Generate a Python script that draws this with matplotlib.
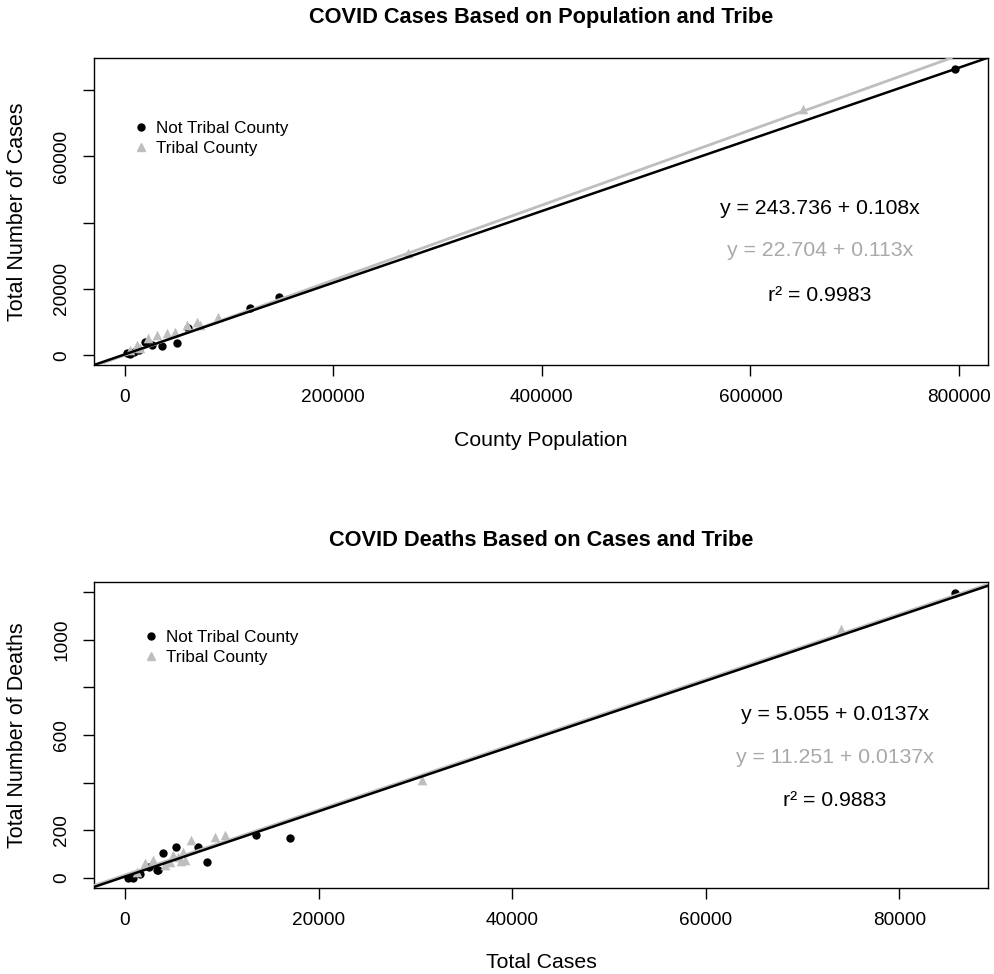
import matplotlib
matplotlib.use("Agg")
import matplotlib.pyplot as plt
from matplotlib.lines import Line2D

plt.rcParams["font.family"] = ["Liberation Sans", "DejaVu Sans"]

# ---- data ----
# panel 1: county population vs total cases
pop_not_tribal = [796300, 148100, 120300, 61200, 50000, 35700, 19700, 2100, 5300, 9000, 14000, 26000]
cases_not_tribal = [86100, 17700, 14350, 8140, 3620, 2800, 4100, 600, 300, 1100, 1700, 3000]
pop_tribal = [650000, 272000, 89900, 72400, 69200, 59600, 48400, 40400, 30900, 22800, 11700, 5300, 15000]
cases_tribal = [74300, 30700, 11640, 9140, 10130, 9140, 7120, 6630, 6120, 5130, 3100, 1600, 2200]

# panel 2: total cases vs total deaths
cases2_not_tribal = [85700, 17040, 13530, 8500, 7570, 5270, 3960, 3270, 3440, 860, 340, 1500, 2500]
deaths_not_tribal = [1194, 167, 179, 67, 128, 130, 102, 32, 33, 0, 0, 15, 45]
cases2_tribal = [74000, 30680, 10330, 9300, 6780, 6020, 6200, 5510, 4650, 4130, 2920, 2070, 1210, 5000, 5800]
deaths_tribal = [1046, 410, 179, 172, 158, 109, 74, 88, 67, 53, 74, 60, 25, 95, 70]

# regression fits (intercept, slope) and r^2
fit_cases = {"not": (243.736, 0.108), "tribal": (22.704, 0.113), "r2": 0.9983}
fit_deaths = {"not": (5.055, 0.0137), "tribal": (11.251, 0.0137), "r2": 0.9883}

BLACK = "black"
GRAY = "#BEBEBE"
GRAY_TXT = "#A9A9A9"
W, H = 995, 974

fig = plt.figure(figsize=(W / 100, H / 100), dpi=100)


def px_axes(l, t, r, b):
    return fig.add_axes([l / W, 1 - b / H, (r - l) / W, (b - t) / H])


def panel(ax, xn, yn, xt, yt, fit, sfmt, title, xlabel, ylabel, xlim, ylim,
          xticks, yticks, ylabs, text_x, text_y, leg_anchor, title_y, xlab_y, ylab_x):
    ax.scatter(xn, yn, s=36, marker="o", color=BLACK, zorder=3, linewidths=0)
    ax.scatter(xt, yt, s=48, marker="^", color=GRAY, zorder=3, linewidths=0)
    a, b = fit["tribal"]
    ax.axline((0, a), slope=b, color=GRAY, lw=2.0, zorder=4)
    a, b = fit["not"]
    ax.axline((0, a), slope=b, color=BLACK, lw=1.8, zorder=5)
    ax.set_xlim(*xlim); ax.set_ylim(*ylim)
    ax.set_xticks(xticks); ax.set_xticklabels([str(v) for v in xticks])
    ax.set_yticks(yticks); ax.set_yticklabels(ylabs, rotation=90, va="center")
    ax.tick_params(length=8, width=1, labelsize=13.7, pad=9)
    for sp in ax.spines.values():
        sp.set_linewidth(1.0)
    a0, b0 = fit["not"]; a1, b1 = fit["tribal"]
    tr = ax.transData
    ax.text(text_x, text_y[0], f"y = {a0:.3f} + {b0:{sfmt}}x", color=BLACK, fontsize=15.3, ha="center", va="center", transform=tr)
    ax.text(text_x, text_y[1], f"y = {a1:.3f} + {b1:{sfmt}}x", color=GRAY_TXT, fontsize=15.3, ha="center", va="center", transform=tr)
    ax.text(text_x, text_y[2], f"r\u00b2 = {fit['r2']:.4f}", color=BLACK, fontsize=15.3, ha="center", va="center", transform=tr)
    handles = [Line2D([], [], ls="", marker="o", ms=5, color=BLACK),
               Line2D([], [], ls="", marker="^", ms=6, color=GRAY)]
    ax.legend(handles, ["Not Tribal County", "Tribal County"], loc="upper left",
              bbox_to_anchor=leg_anchor, bbox_transform=fig.transFigure, frameon=False,
              fontsize=12.3, handletextpad=0.35, handlelength=1.0, labelspacing=0.3, borderaxespad=0)
    pos = ax.get_position()
    fig.text(541 / W, 1 - title_y / H, title, fontsize=15.7, fontweight="bold", ha="center", va="center")
    fig.text(541 / W, 1 - xlab_y / H, xlabel, fontsize=15.3, ha="center", va="center")
    fig.text(ylab_x / W, (pos.y0 + pos.y1) / 2, ylabel, fontsize=15.5, rotation=90, ha="center", va="center")


ax1 = px_axes(94, 58, 988, 365)
panel(ax1, pop_not_tribal, cases_not_tribal, pop_tribal, cases_tribal, fit_cases, ".3f",
      "COVID Cases Based on Population and Tribe", "County Population", "Total Number of Cases",
      (-29240, 827800), (-2925, 89560),
      [0, 200000, 400000, 600000, 800000], [0, 20000, 40000, 60000, 80000],
      ["0", "20000", "", "60000", ""],
      666800, (44100, 31460, 17900), (126 / W, 1 - 114 / H), 17, 440, 18)

ax2 = px_axes(94, 582, 988, 888)
panel(ax2, cases2_not_tribal, deaths_not_tribal, cases2_tribal, deaths_tribal, fit_deaths, ".4f",
      "COVID Deaths Based on Cases and Tribe", "Total Cases", "Total Number of Deaths",
      (-3202, 89143), (-43, 1242),
      [0, 20000, 40000, 60000, 80000], [0, 200, 400, 600, 800, 1000, 1200],
      ["0", "200", "", "600", "", "1000", ""],
      73340, (687, 507, 326), (136 / W, 1 - 623 / H), 540, 963, 18)

fig.savefig("out.png", dpi=100)
